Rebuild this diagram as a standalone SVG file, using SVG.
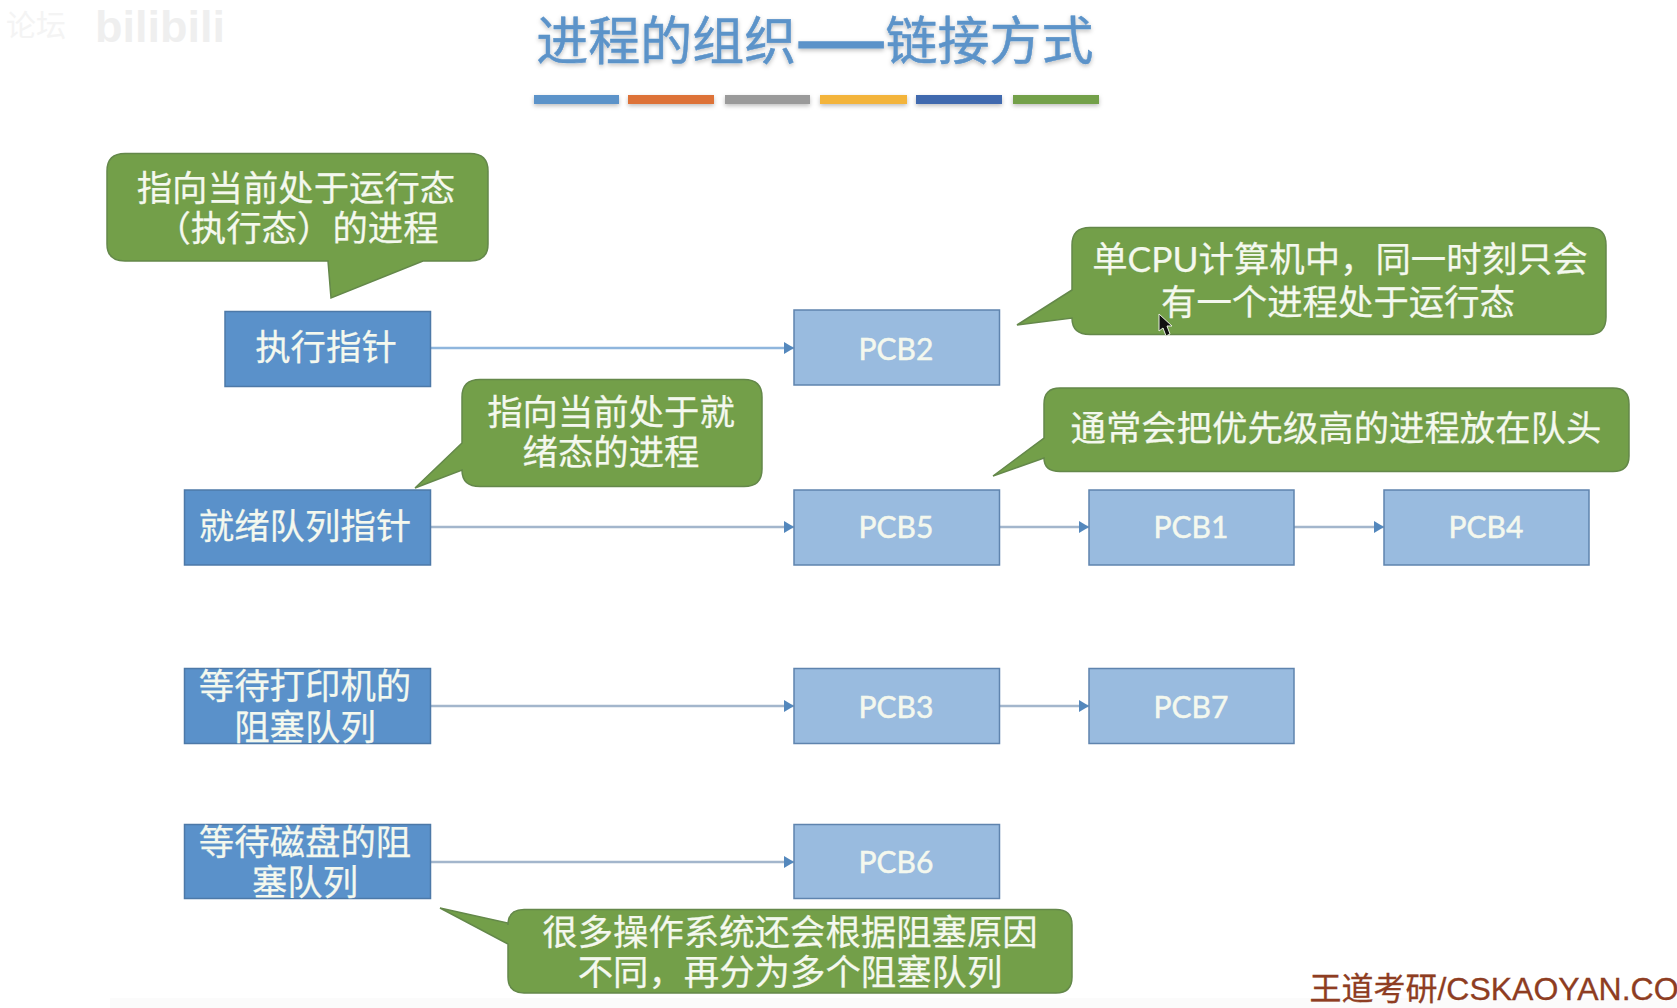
<svg xmlns="http://www.w3.org/2000/svg" width="1677" height="1008" viewBox="0 0 1677 1008">
<style>
text{font-family:"Noto Sans CJK SC","Liberation Sans",sans-serif;text-anchor:middle;fill:#f4f8ee}
.ptr{fill:#5a91ca;stroke:#4d79a8;stroke-width:1.5}
.pcb{fill:#99bbdf;stroke:#5f84ae;stroke-width:1.5}
.call{fill:#739f49;stroke:#64884a;stroke-width:1.5}
.t{font-size:35.4px;stroke:#f4f8ee;stroke-width:.25}
.p{font-family:Lato,"Liberation Sans",sans-serif;font-size:30px;stroke:#f4f8ee;stroke-width:.5}
.con{stroke:#a3b6cc;stroke-width:2.5;fill:none;marker-end:url(#a)}
</style>
<defs>
<marker id="a" markerUnits="userSpaceOnUse" markerWidth="11" markerHeight="12" refX="10" refY="6" orient="auto"><path d="M0 0L10 6L0 12z" fill="#5488bd"/></marker>
<filter id="s" x="-5%" y="-30%" width="110%" height="200%"><feDropShadow dx="0" dy="2" stdDeviation="2" flood-color="#000" flood-opacity=".25"/></filter>
</defs>
<rect width="1677" height="1008" fill="#fff"/>
<rect x="110" y="998" width="1567" height="10" fill="#fbfbfb"/>
<g id="watermark">
<text x="36" y="36" style="font-size:30px;fill:#f4f4f4">论坛</text>
<text x="160" y="42" textLength="130" lengthAdjust="spacingAndGlyphs" style="font-family:'Liberation Sans',sans-serif;font-size:44px;font-weight:700;fill:#efefef">bilibili</text>
</g>
<g id="title">
<text x="815" y="60" style="font-size:52px;fill:#5b93c9;stroke:#5b93c9;stroke-width:.5" filter="url(#s)">进程的组织<tspan style="font-weight:900;stroke-width:1.5">——</tspan>链接方式</text>
<g filter="url(#s)">
<rect x="534" y="95" width="85" height="9" fill="#5b93c9"/>
<rect x="628" y="95" width="86" height="9" fill="#dd7238"/>
<rect x="725" y="95" width="85" height="9" fill="#9a9a9a"/>
<rect x="820" y="95" width="87" height="9" fill="#f3b43a"/>
<rect x="916" y="95" width="86" height="9" fill="#3f69ae"/>
<rect x="1013" y="95" width="86" height="9" fill="#73a04a"/>
</g>
</g>
<g id="connectors">
<line class="con" style="stroke:#8fb6dd" x1="431" y1="348" x2="794" y2="348"/>
<line class="con" x1="431" y1="527" x2="794" y2="527"/>
<line class="con" x1="1000" y1="527" x2="1089" y2="527"/>
<line class="con" x1="1294" y1="527" x2="1384" y2="527"/>
<line class="con" x1="431" y1="706" x2="794" y2="706"/>
<line class="con" x1="1000" y1="706" x2="1089" y2="706"/>
<line class="con" x1="431" y1="862" x2="794" y2="862"/>
</g>
<g id="ptr-run"><rect class="ptr" x="225" y="311.5" width="205.5" height="75"/><text class="t" x="326" y="360">执行指针</text></g>
<g id="ptr-ready"><rect class="ptr" x="184.5" y="490" width="246" height="75"/><text class="t" x="305" y="539">就绪队列指针</text></g>
<g id="ptr-printer"><rect class="ptr" x="184.5" y="668.5" width="246" height="75"/><text class="t"><tspan x="305" y="699">等待打印机的</tspan><tspan x="305" y="740">阻塞队列</tspan></text></g>
<g id="ptr-disk"><rect class="ptr" x="184.5" y="824.5" width="246" height="74"/><text class="t"><tspan x="305" y="855">等待磁盘的阻</tspan><tspan x="305" y="895">塞队列</tspan></text></g>
<g id="pcb2"><rect class="pcb" x="794" y="310" width="205.5" height="75"/><text class="p" x="896" y="360">PCB2</text></g>
<g id="pcb5"><rect class="pcb" x="794" y="490" width="205.5" height="75"/><text class="p" x="896" y="538">PCB5</text></g>
<g id="pcb1"><rect class="pcb" x="1089" y="490" width="205" height="75"/><text class="p" x="1191" y="538">PCB1</text></g>
<g id="pcb4"><rect class="pcb" x="1384" y="490" width="205" height="75"/><text class="p" x="1486" y="538">PCB4</text></g>
<g id="pcb3"><rect class="pcb" x="794" y="668.5" width="205.5" height="75"/><text class="p" x="896" y="718">PCB3</text></g>
<g id="pcb7"><rect class="pcb" x="1089" y="668.5" width="205" height="75"/><text class="p" x="1191" y="718">PCB7</text></g>
<g id="pcb6"><rect class="pcb" x="794" y="824.5" width="205.5" height="74"/><text class="p" x="896" y="873">PCB6</text></g>
<g id="callout-run"><path class="call" d="M125 153.5H470Q488 153.5 488 171V244Q488 261 470 261H423L331 298L328 261H125Q107 261 107 244V171Q107 153.5 125 153.5Z"/><text class="t"><tspan x="296" y="201">指向当前处于运行态</tspan><tspan x="297" y="241">（执行态）的进程</tspan></text></g>
<g id="callout-single"><path class="call" d="M1090 227.500H1589Q1606 227.500 1606 245V317Q1606 334.500 1589 334.500H1090Q1072 334.500 1072 318L1017 325L1072 290V245Q1072 227.500 1090 227.500Z"/><text class="t"><tspan x="1340" y="272">单<tspan style="font-family:Lato,'Liberation Sans',sans-serif">CPU</tspan>计算机中，同一时刻只会</tspan><tspan x="1338" y="315">有一个进程处于运行态</tspan></text></g>
<g id="callout-ready"><path class="call" d="M480 379.500H744Q762 379.500 762 397V469Q762 486.500 744 486.500H480Q462 486.500 462 470L415 488L462 443V397Q462 379.500 480 379.500Z"/><text class="t"><tspan x="611" y="425">指向当前处于就</tspan><tspan x="611" y="465">绪态的进程</tspan></text></g>
<g id="callout-head"><path class="call" d="M1060 388H1613Q1629 388 1629 404V456Q1629 471.500 1613 471.500H1060Q1044 471.500 1044 458L993 476L1044 438V404Q1044 388 1060 388Z"/><text class="t" x="1336" y="441">通常会把优先级高的进程放在队头</text></g>
<g id="callout-blocked"><path class="call" d="M524 909.500H1056Q1072 909.500 1072 925V977Q1072 993 1056 993H524Q508 993 508 977V944L440 908L508 923V925Q508 909.500 524 909.500Z"/><text class="t"><tspan x="790" y="945">很多操作系统还会根据阻塞原因</tspan><tspan x="790" y="985">不同，再分为多个阻塞队列</tspan></text></g>
<path id="cursor" d="M1159 314V331L1163 328L1166 336L1170 334L1167 326L1172 326Z" fill="#111" stroke="#e8efe0" stroke-width="1"/>
<text id="brand" x="1494" y="1000" style="font-family:'Liberation Sans','Noto Sans CJK SC',sans-serif;font-size:32px;fill:#8e3d22;stroke:#8e3d22;stroke-width:.3">王道考研/CSKAOYAN.CO</text>
</svg>
